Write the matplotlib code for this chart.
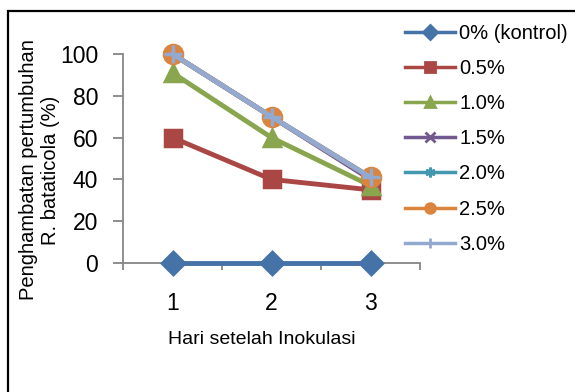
import matplotlib
matplotlib.use("Agg")
import matplotlib.pyplot as plt
from matplotlib.lines import Line2D
from matplotlib.patches import Rectangle

plt.rcParams['font.family'] = ['Liberation Sans', 'DejaVu Sans']

days = [1, 2, 3]
day_labels = ["1", "2", "3"]
series_names = ["0% (kontrol)", "0.5%", "1.0%", "1.5%", "2.0%", "2.5%", "3.0%"]
kontrol = [0, 0, 0]
c05 = [60, 40, 35]
c10 = [91, 60, 37]
c15 = [100, 70, 40]
c20 = [100, 70, 41]
c25 = [100, 70, 41]
c30 = [100, 70, 41]
values = [kontrol, c05, c10, c15, c20, c25, c30]

colors = ["#4572A7", "#AA4643", "#89A54E", "#71588F", "#4198AF", "#DB843D", "#93A9CF"]
markers = ["D", "s", "^", "x", (6, 2, 0), "o", "+"]
msizes = [11, 12, 12, 10, 10, 13, 13]

W, H = 575, 392
fig = plt.figure(figsize=(W / 100, H / 100), dpi=100)
ax = fig.add_axes([123 / W, 1 - 263 / H, (420 - 123) / W, (263 - 54) / H])

for vals, col, mk, ms in zip(values, colors, markers, msizes):
    ax.plot(days, vals, color=col, lw=3.5, marker=mk, ms=ms,
            mfc=col, mec=col, mew=2.5, clip_on=False, zorder=3)

ax.set_xlim(0.5, 3.5)
ax.set_ylim(0, 100)
ax.set_yticks(range(0, 101, 20))
ax.set_xticks(days)
ax.set_xticklabels(day_labels)
ax.set_xticks([0.5, 1.5, 2.5, 3.5], minor=True)

grey = "#868686"
for s in ["top", "right"]:
    ax.spines[s].set_visible(False)
for s in ["left", "bottom"]:
    ax.spines[s].set_color(grey)
    ax.spines[s].set_linewidth(1.3)

ax.tick_params(axis="y", which="major", length=7, width=1.3, color=grey,
               pad=11, labelsize=16.5)
ax.tick_params(axis="x", which="major", length=0, pad=21, labelsize=16.5)
ax.tick_params(axis="x", which="minor", length=5, width=1.3, color=grey)

fig.text(262 / W, 1 - 340 / H, "Hari setelah Inokulasi", ha="center",
         va="center", fontsize=14)
fig.text(40 / W, 1 - 170 / H, "Penghambatan pertumbuhan\nR. bataticola (%)",
         ha="center", va="center", rotation=90, fontsize=14.5,
         multialignment="center")

handles = [Line2D([], [], color=c, lw=2.5, marker=m, ms=7, mfc=c, mec=c, mew=2)
           for c, m in zip(colors, markers)]
fig.legend(handles, series_names, loc="upper left",
           bbox_to_anchor=(405 / W, 1 - 24 / H), frameon=False,
           fontsize=14.5, handlelength=2.5, handletextpad=0.2,
           labelspacing=0.8, borderpad=0, borderaxespad=0)

# chart area border, cut off at the right and bottom edges
fig.patches.append(Rectangle((8 / W, -0.1), 1.2, 1 - 11 / H + 0.1,
                             transform=fig.transFigure, fill=False,
                             ec="black", lw=1.6))

fig.savefig("out.png", dpi=100)
